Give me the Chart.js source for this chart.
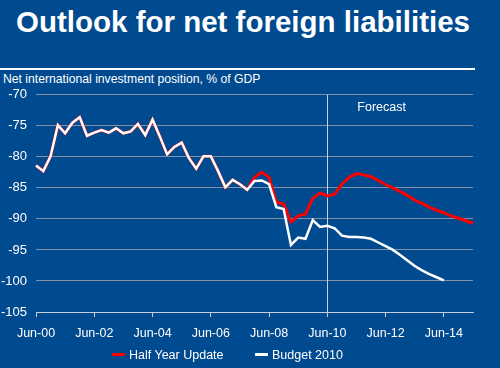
<!DOCTYPE html>
<html>
<head>
<meta charset="utf-8">
<script src="https://cdn.jsdelivr.net/npm/chart.js@4.4.0/dist/chart.umd.min.js"></script>
<style>
  html, body { margin: 0; padding: 0; }
  body { width: 500px; height: 368px; background: #004a8f; position: relative; overflow: hidden; font-family: "Liberation Sans", Arial, sans-serif; color: #fff; }
  #title { position: absolute; left: 16px; top: 5px; font-size: 29.5px; font-weight: bold; white-space: nowrap; }
  #rule { position: absolute; left: 0; top: 68px; width: 475px; height: 2px; background: #fff; }
  #sub { position: absolute; left: 3px; top: 72px; font-size: 12.2px; white-space: nowrap; }
  #wrap { position: absolute; left: 0; top: 78px; width: 500px; height: 272px; }
  #legend { position: absolute; top: 348px; left: 0; width: 500px; font-size: 12.5px; }
  .item { position: absolute; top: 0; white-space: nowrap; }
  .sw { display: inline-block; width: 13px; height: 3px; vertical-align: middle; margin-right: 4px; position: relative; top: -1px; }
</style>
</head>
<body>
<div id="title">Outlook for net foreign liabilities</div>
<div id="rule"></div>
<div id="sub">Net international investment position, % of GDP</div>
<div id="wrap"><canvas id="line-chart"></canvas></div>
<div id="legend">
  <span class="item" style="left:112px"><span class="sw" style="background:#ff0000"></span>Half Year Update</span>
  <span class="item" style="left:255px"><span class="sw" style="background:#ffffff"></span>Budget 2010</span>
</div>
<script>
// quarterly, Jun-00 .. Jun-15
var months = ['Jun', 'Sep', 'Dec', 'Mar'];
var quarters = [];
for (var i = 0; i < 61; i++) {
  var yr = 2000 + Math.floor((i + 1) / 4);
  quarters.push(months[i % 4] + '-' + String(yr).slice(2));
}
var tickLabels = ['Jun-00', 'Jun-02', 'Jun-04', 'Jun-06', 'Jun-08', 'Jun-10', 'Jun-12', 'Jun-14'];

var budget2010 = [-81.4, -82.3, -79.9, -74.9, -76.2, -74.5, -73.6, -76.6, -76.1, -75.7,
  -76.1, -75.4, -76.2, -75.9, -74.7, -76.5, -74.0, -76.7, -79.6, -78.4,
  -77.7, -80.2, -81.9, -79.9, -79.9, -82.3, -84.9, -83.7, -84.4, -85.3,
  -83.9, -83.8, -84.4, -88.1, -88.4, -94.2, -93.0, -93.2, -90.2, -91.3,
  -91.1, -91.5, -92.7, -92.9, -92.9, -93.0, -93.2, -93.8, -94.4, -95.0,
  -95.8, -96.7, -97.6, -98.3, -98.9, -99.4, -99.9];

var halfYearUpdate = [-81.4, -82.3, -79.9, -74.9, -76.2, -74.5, -73.6, -76.6, -76.1, -75.7,
  -76.1, -75.4, -76.2, -75.9, -74.7, -76.5, -74.0, -76.7, -79.6, -78.4,
  -77.7, -80.2, -81.9, -79.9, -79.9, -82.3, -84.9, -83.7, -84.4, -85.3,
  -83.3, -82.5, -83.3, -87.3, -87.6, -90.5, -89.5, -89.2, -86.7, -85.8,
  -86.3, -86.0, -84.4, -83.3, -82.7, -82.9, -83.2, -83.8, -84.5, -85.0,
  -85.6, -86.2, -87.0, -87.5, -88.1, -88.6, -89.0, -89.5, -89.9, -90.3, -90.7];

var forecastStart = 'Jun-10';

var forecastMarker = {
  id: 'forecastMarker',
  beforeDatasetsDraw: function(chart) {
    var ctx = chart.ctx, area = chart.chartArea;
    var x = chart.scales.x.getPixelForValue(quarters.indexOf(forecastStart));
    ctx.save();
    ctx.strokeStyle = '#c8d0dc';
    ctx.lineWidth = 1;
    ctx.beginPath();
    ctx.moveTo(Math.round(x) + 0.5, area.top);
    ctx.lineTo(Math.round(x) + 0.5, area.bottom);
    ctx.stroke();
    ctx.fillStyle = '#ffffff';
    ctx.font = '12.5px "Liberation Sans", Arial, sans-serif';
    ctx.textAlign = 'left';
    ctx.textBaseline = 'middle';
    ctx.fillText('Forecast', x + 30, area.top + 13);
    ctx.restore();
  }
};

function chart_set() {
  var chart = new Chart(document.getElementById("line-chart"), {
    type: 'line',
    data: {
      labels: quarters,
      datasets: [
        {
          data: budget2010,
          label: 'Budget 2010',
          borderColor: '#ffffff',
          borderWidth: 2.5,
          pointRadius: 0,
          fill: false,
          tension: 0
        },
        {
          data: halfYearUpdate,
          label: 'Half Year Update',
          borderColor: '#ff0000',
          borderWidth: 3,
          pointRadius: 0,
          fill: false,
          tension: 0
        }
      ]
    },
    options: {
      responsive: true,
      maintainAspectRatio: false,
      animation: false,
      layout: { padding: { top: 4, left: 0, right: 27, bottom: 0 } },
      plugins: {
        legend: { display: false },
        tooltip: { enabled: false }
      },
      scales: {
        x: {
          offset: false,
          grid: { drawOnChartArea: false, drawTicks: true, tickLength: 5, color: '#c8d0dc' },
          border: { display: true, color: '#c8d0dc', width: 1 },
          ticks: {
            autoSkip: false,
            maxRotation: 0,
            color: '#ffffff',
            padding: 9,
            font: { family: '"Liberation Sans", Arial, sans-serif', size: 12.5 },
            callback: function(v, i) {
              var l = quarters[i];
              return tickLabels.indexOf(l) >= 0 ? l : null;
            }
          }
        },
        y: {
          min: -105,
          max: -70,
          afterFit: function(scale) { scale.width = 36; },
          ticks: {
            stepSize: 5,
            color: '#ffffff',
            padding: 9,
            font: { family: '"Liberation Sans", Arial, sans-serif', size: 13 }
          },
          grid: { color: '#8391a8', drawTicks: false },
          border: { display: false }
        }
      }
    },
    plugins: [forecastMarker]
  });
}

chart_set();
</script>
</body>
</html>
